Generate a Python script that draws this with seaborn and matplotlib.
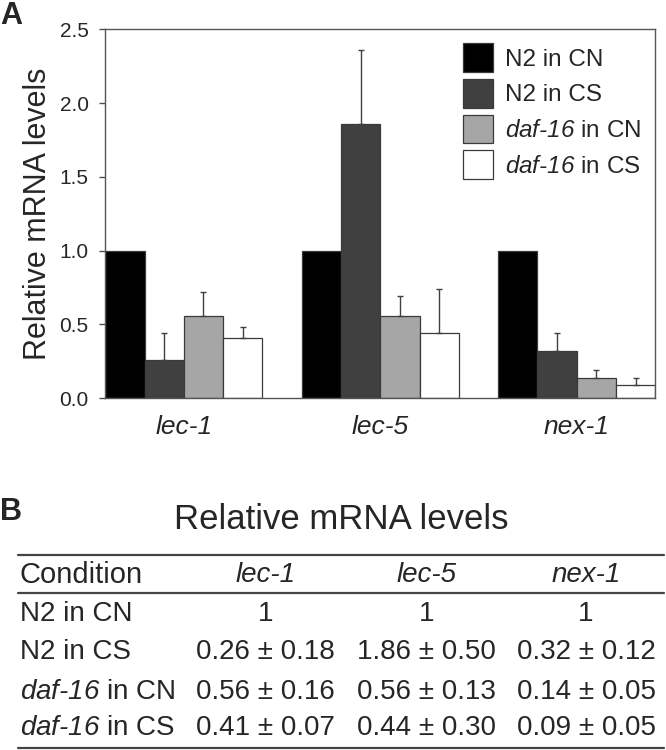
import pandas as pd
import matplotlib.pyplot as plt
import seaborn as sns
from matplotlib.lines import Line2D
from matplotlib.patches import Patch

genes = ["lec-1", "lec-5", "nex-1"]
conditions = ["N2 in CN", "N2 in CS", "daf-16 in CN", "daf-16 in CS"]
n2_cn = [1.0, 1.0, 1.0]
n2_cs = [0.26, 1.86, 0.32]
daf_cn = [0.56, 0.56, 0.14]
daf_cs = [0.41, 0.44, 0.09]
n2_cn_err = [0.0, 0.0, 0.0]
n2_cs_err = [0.18, 0.50, 0.12]
daf_cn_err = [0.16, 0.13, 0.05]
daf_cs_err = [0.07, 0.30, 0.05]

bar_colors = ["#000000", "#404040", "#a6a6a6", "#ffffff"]
edge = "#3a3a3a"

sns.set_theme(style="ticks")
plt.rcParams["font.family"] = ["Liberation Sans", "DejaVu Sans"]
# math text is only used for the italic gene name, so make it all italic
plt.rcParams["mathtext.fontset"] = "custom"
plt.rcParams["mathtext.rm"] = "Liberation Sans:italic"
plt.rcParams["mathtext.it"] = "Liberation Sans:italic"

means = [n2_cn, n2_cs, daf_cn, daf_cs]
errs = [n2_cn_err, n2_cs_err, daf_cn_err, daf_cs_err]

rows = []
for cond, vals in zip(conditions, means):
    for g, v in zip(genes, vals):
        rows.append({"gene": g, "condition": cond, "value": v})
df = pd.DataFrame(rows)


def pretty(name):
    # italicise the mutant name (unicode hyphen keeps it a plain dash in math mode)
    if name.startswith("daf-16"):
        return "$\\mathrm{daf\u201016}$" + name[len("daf-16"):]
    return name


fig = plt.figure(figsize=(6.66, 7.5), dpi=100)
ax = fig.add_axes([0.158, 0.469, 0.826, 0.492])

sns.barplot(data=df, x="gene", y="value", hue="condition", order=genes,
            hue_order=conditions, palette=bar_colors, edgecolor=edge,
            linewidth=0.9, errorbar=None, width=0.8, saturation=1,
            legend=False, ax=ax)

# one-sided error bars on top of each bar
for container, err_vals in zip(ax.containers, errs):
    for bar, e in zip(container, err_vals):
        if e <= 0:
            continue
        x = bar.get_x() + bar.get_width() / 2
        y = bar.get_height()
        ax.errorbar(x, y, yerr=[[0], [e]], fmt="none", ecolor="#404040",
                    elinewidth=1.0, capsize=2.2, capthick=1.0, zorder=1)

ax.set_xlim(-0.4, 2.4)
ax.set_ylim(0, 2.5)
ax.set_yticks([0, 0.5, 1.0, 1.5, 2.0, 2.5])
ax.set_yticklabels([f"{t:.1f}" for t in [0, 0.5, 1.0, 1.5, 2.0, 2.5]])
ax.set_xlabel("")
ax.set_ylabel("Relative mRNA levels", fontsize=22)
ax.yaxis.set_label_coords(-0.095, 0.5)
ax.tick_params(axis="y", length=4, width=1, color="#505050", labelsize=15, pad=8)
ax.tick_params(axis="x", length=0, labelsize=19, pad=12)
for lbl in ax.get_xticklabels():
    lbl.set_fontstyle("italic")
for s in ax.spines.values():
    s.set_visible(True)
    s.set_color("#555555")
    s.set_linewidth(1.0)

handles = [Patch(facecolor=c, edgecolor=edge, linewidth=0.9) for c in bar_colors]
ax.legend(handles, [pretty(c) for c in conditions], loc="upper left",
          bbox_to_anchor=(0.651, 0.962), frameon=False, fontsize=17.5,
          handlelength=1.2, handleheight=1.45, labelspacing=0.28,
          handletextpad=0.5, borderpad=0, borderaxespad=0)

fig.text(0.0, 0.979, "A", fontsize=22, fontweight="bold", va="center", ha="left")
fig.text(0.0, 0.318, "B", fontsize=22, fontweight="bold", va="center", ha="left")

# table part (B)
fig.text(0.513, 0.307, "Relative mRNA levels", fontsize=25, ha="center", va="center")

line_kw = dict(color="#444444", linewidth=1.6)
for yline in [0.26, 0.2093, 0.003]:
    fig.add_artist(Line2D([0.027, 0.997], [yline, yline], transform=fig.transFigure, **line_kw))

col_x = [0.399, 0.640, 0.880]
row_y = [0.1813, 0.1307, 0.0773, 0.0293]
header_y = 0.2333
table_fs = 20

fig.text(0.03, header_y, "Condition", fontsize=21, ha="left", va="center")
for g, cx in zip(genes, col_x):
    fig.text(cx, header_y, g, fontsize=table_fs, ha="center", va="center", fontstyle="italic")

for cond, vals, ev, ry in zip(conditions, means, errs, row_y):
    fig.text(0.03, ry, pretty(cond), fontsize=table_fs, ha="left", va="center")
    for v, e, cx in zip(vals, ev, col_x):
        txt = "1" if e == 0 else f"{v:.2f} \u00b1 {e:.2f}"
        fig.text(cx, ry, txt, fontsize=table_fs, ha="center", va="center")

fig.savefig("out.png", dpi=100)
plt.close(fig)
